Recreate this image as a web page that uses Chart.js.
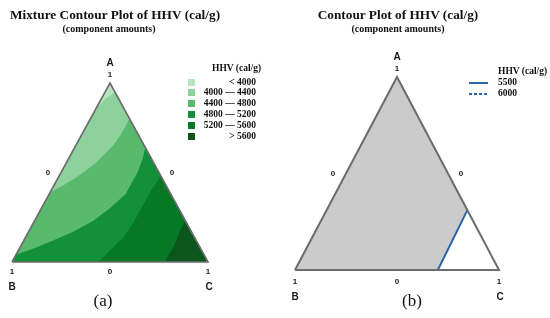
<!DOCTYPE html>
<html>
<head>
<meta charset="utf-8">
<script src="https://cdn.jsdelivr.net/npm/chart.js@4.4.1/dist/chart.umd.min.js"></script>
<style>
  html, body { margin: 0; padding: 0; background: #fff; }
  #page { position: relative; width: 550px; height: 318px; overflow: hidden; font-family: 'Liberation Serif', 'Times New Roman', serif; color: #111; }
  .panel { position: absolute; top: 0; width: 275px; height: 318px; }
  .panel canvas { position: absolute; left: 0; top: 0; }
  .txt { position: absolute; white-space: nowrap; font-weight: bold; line-height: 1; transform: translate(-50%, -50%); }
  .leg { position: absolute; font-weight: bold; font-size: 9.5px; line-height: 1; white-space: nowrap; }
  .box { position: absolute; width: 7px; height: 7px; }
</style>
</head>
<body>
<div id="page">
  <div class="panel" style="left:0"><canvas id="chartA" width="275" height="318"></canvas></div>
  <div class="panel" style="left:275px"><canvas id="chartB" width="275" height="318"></canvas></div>

  <div class="txt" style="left:115px;top:15px;font-size:13.3px">Mixture Contour Plot of HHV (cal/g)</div>
  <div class="txt" style="left:109px;top:29px;font-size:10px">(component amounts)</div>
  <div class="txt" style="left:398px;top:15px;font-size:13.3px">Contour Plot of HHV (cal/g)</div>
  <div class="txt" style="left:398px;top:29px;font-size:10px">(component amounts)</div>

  <div class="txt" style="left:103px;top:300px;font-size:17px;font-weight:normal">(a)</div>
  <div class="txt" style="left:412px;top:300px;font-size:17px;font-weight:normal">(b)</div>

  <div id="legendA"></div>
  <div id="legendB"></div>
</div>

<script>
// mixture points are [A, B, C] component fractions, each contour listed left to right
const bandLabels = ['< 4000', '4000 — 4400', '4400 — 4800', '4800 — 5200', '5200 — 5600', '> 5600'];
const cont4000 = [[0.85, 0.15, 0.00], [0.88, 0.11, 0.01], [0.91, 0.07, 0.02], [0.95, 0.00, 0.05]];
const cont4400 = [[0.39, 0.61, 0.00], [0.43, 0.52, 0.05], [0.47, 0.44, 0.09], [0.51, 0.37, 0.12], [0.55, 0.30, 0.15],
                  [0.60, 0.23, 0.17], [0.65, 0.16, 0.19], [0.72, 0.08, 0.20], [0.80, 0.00, 0.20]];
const cont4800 = [[0.04, 0.96, 0.00], [0.08, 0.84, 0.08], [0.12, 0.73, 0.15], [0.17, 0.60, 0.23], [0.23, 0.47, 0.30],
                  [0.30, 0.35, 0.35], [0.38, 0.23, 0.39], [0.44, 0.17, 0.39], [0.50, 0.11, 0.39], [0.57, 0.05, 0.38],
                  [0.64, 0.00, 0.36]];
const cont5200 = [[0.00, 0.56, 0.44], [0.07, 0.46, 0.47], [0.14, 0.36, 0.50], [0.22, 0.27, 0.51], [0.31, 0.18, 0.51],
                  [0.40, 0.09, 0.51], [0.48, 0.00, 0.52]];
const cont5600 = [[0.00, 0.22, 0.78], [0.05, 0.17, 0.78], [0.11, 0.11, 0.78], [0.17, 0.06, 0.77], [0.23, 0.00, 0.77]];

// panel (b): contour lines
const lineLabels = ['5500', '6000'];
const cont5500 = [[0.00, 0.30, 0.70], [0.31, 0.00, 0.69]];

const vA = [1, 0, 0];
const vB = [0, 1, 0];
const vC = [0, 0, 1];

const greens = ['#b6e5c2', '#8dd29d', '#59b96c', '#12903a', '#067826', '#0b561d'];
const blue = '#2a64ab';
const grey = '#cbcbcb';
const edge = '#6c6c6c';

// ternary -> cartesian (B at 0,0 ; C at 1,0 ; A at 0.5,1)
function xy(p) {
  return { x: p[2] + p[0] / 2, y: p[0] };
}

function area(points, color) {
  return {
    data: points.map(xy),
    showLine: true,
    borderWidth: 0,
    borderColor: color,
    backgroundColor: color,
    fill: 'origin',
    pointRadius: 0,
    tension: 0
  };
}

function outline(points, color, width, dash) {
  return {
    data: points.map(xy),
    showLine: true,
    borderWidth: width,
    borderColor: color,
    borderDash: dash || [],
    fill: false,
    pointRadius: 0,
    tension: 0
  };
}

const vertexLabels = {
  id: 'vertexLabels',
  afterDraw(chart, args, opts) {
    const { ctx, scales: { x, y } } = chart;
    ctx.save();
    ctx.fillStyle = '#1a1a1a';
    ctx.textAlign = 'center';
    ctx.textBaseline = 'middle';
    opts.items.forEach(it => {
      const p = xy(it.at);
      ctx.font = it.font;
      ctx.fillText(it.text, x.getPixelForValue(p.x) + it.dx, y.getPixelForValue(p.y) + it.dy);
    });
    ctx.restore();
  }
};

function labelsFor(below, side) {
  const big = 'bold 10px "Liberation Sans", Arial, sans-serif';
  const small = 'bold 8px "Liberation Sans", Arial, sans-serif';
  return [
    { text: 'A', at: vA, dx: 0, dy: -20, font: big },
    { text: '1', at: vA, dx: 0, dy: -8, font: small },
    { text: '0', at: [0.5, 0.5, 0], dx: -side, dy: 0, font: small },
    { text: '0', at: [0.5, 0, 0.5], dx: side, dy: 0, font: small },
    { text: '1', at: vB, dx: 0, dy: below, font: small },
    { text: '0', at: [0, 0.5, 0.5], dx: 0, dy: below, font: small },
    { text: '1', at: vC, dx: 0, dy: below, font: small },
    { text: 'B', at: vB, dx: 0, dy: below + 15, font: big },
    { text: 'C', at: vC, dx: 1, dy: below + 15, font: big }
  ];
}

// geo: pixel spots of B/C (x) and base/apex (y) inside the canvas
function makeChart(id, datasets, geo, labels) {
  const ux = geo.cx - geo.bx;
  const uy = geo.base - geo.apex;
  return new Chart(document.getElementById(id), {
    type: 'scatter',
    data: { datasets },
    options: {
      responsive: false,
      animation: false,
      layout: { padding: 0 },
      scales: {
        x: { type: 'linear', display: false, min: -geo.bx / ux, max: (275 - geo.bx) / ux },
        y: { type: 'linear', display: false, min: (geo.base - 318) / uy, max: geo.base / uy }
      },
      plugins: {
        legend: { display: false },
        tooltip: { enabled: false },
        vertexLabels: { items: labels }
      }
    },
    plugins: [vertexLabels]
  });
}

// panel (a): index 0 drawn on top, so the smallest band goes first
makeChart('chartA', [
  outline([vB, vA, vC, vB], edge, 1.6),
  area([vB, ...cont5600, vC], greens[5]),
  area([vB, ...cont5200, vC], greens[4]),
  area([vB, ...cont4800, vC], greens[3]),
  area([vB, ...cont4400, vC], greens[2]),
  area([vB, ...cont4000, vC], greens[1]),
  area([vB, vA, vC], greens[0])
], { bx: 12, cx: 208, base: 262, apex: 83 }, labelsFor(10, 13));

// panel (b)
makeChart('chartB', [
  outline([vB, vA, vC, vB], edge, 2),
  outline(cont5500, blue, 2),
  area([...cont5500, vC], '#ffffff'),
  area([vB, vA, vC], grey)
], { bx: 20, cx: 224, base: 270, apex: 77 }, labelsFor(12, 13));

// legends
const legA = document.getElementById('legendA');
let html = '<div class="leg" style="left:212px;top:64px">HHV (cal/g)</div>';
bandLabels.forEach((lab, i) => {
  const top = 82 + i * 10.8;
  html += `<div class="box" style="left:188px;top:${top - 3.5}px;background:${greens[i]}"></div>`;
  html += `<div class="leg" style="right:${550 - 256}px;top:${top - 4.5}px;text-align:right">${lab}</div>`;
});
legA.innerHTML = html;

const legB = document.getElementById('legendB');
let htmlB = '<div class="leg" style="left:498px;top:67px">HHV (cal/g)</div>';
lineLabels.forEach((lab, i) => {
  const top = 82.5 + i * 11;
  const dash = i === 1 ? 'stroke-dasharray="3,2"' : '';
  htmlB += `<svg style="position:absolute;left:469px;top:${top - 2}px" width="19" height="4"><line x1="0" y1="2" x2="19" y2="2" stroke="${blue}" stroke-width="2" ${dash}/></svg>`;
  htmlB += `<div class="leg" style="left:498px;top:${top - 4.5}px">${lab}</div>`;
});
legB.innerHTML = htmlB;
</script>
</body>
</html>
